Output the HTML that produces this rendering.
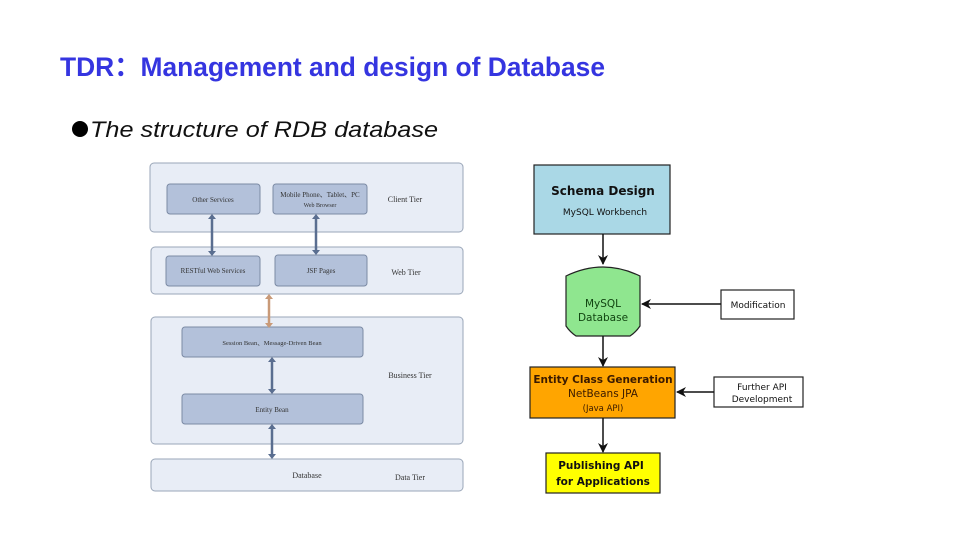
<!DOCTYPE html>
<html><head><meta charset="utf-8"><style>html,body{margin:0;padding:0;background:#fff}svg{display:block}</style></head>
<body>
<svg width="960" height="540" viewBox="0 0 960 540" xmlns="http://www.w3.org/2000/svg" font-family="Liberation Sans, sans-serif">
<defs>
<marker id="ah" markerWidth="10" markerHeight="10" refX="9" refY="5" orient="auto" markerUnits="userSpaceOnUse"><path d="M0,0 L10,5 L0,10 L3,5 z" fill="#111"/></marker>
</defs>
<text x="60" y="76" font-size="27" font-weight="bold" fill="#3535e0" textLength="545" lengthAdjust="spacingAndGlyphs" font-family="Liberation Sans, 'Noto Sans CJK SC', sans-serif">TDR：Management and design of Database</text>
<circle cx="80" cy="129" r="8" fill="#000"/>
<text x="90" y="137" font-size="22" font-style="italic" fill="#111" textLength="348" lengthAdjust="spacingAndGlyphs">The structure of RDB database</text>

<g stroke="#9aa6b8" stroke-width="1">
<rect x="150" y="163" width="313" height="69" rx="4" fill="#e8edf6"/>
<rect x="151" y="247" width="312" height="47" rx="4" fill="#e8edf6"/>
<rect x="151" y="317" width="312" height="127" rx="4" fill="#e8edf6"/>
<rect x="151" y="459" width="312" height="32" rx="4" fill="#e8edf6"/>
</g>
<g stroke="#7b8aa4" stroke-width="1" fill="#b3c1da">
<rect x="167" y="184" width="93" height="30" rx="3"/>
<rect x="273" y="184" width="94" height="30" rx="3"/>
<rect x="166" y="256" width="94" height="30" rx="3"/>
<rect x="275" y="255" width="92" height="31" rx="3"/>
<rect x="182" y="327" width="181" height="30" rx="3"/>
<rect x="182" y="394" width="181" height="30" rx="3"/>
</g>
<g font-family="Liberation Serif, serif" fill="#333" text-anchor="middle">
<text x="213" y="202" font-size="7">Other Services</text>
<text x="320" y="197" font-size="7">Mobile Phone、Tablet、PC</text>
<text x="320" y="207" font-size="6">Web Browser</text>
<text x="213" y="273" font-size="7">RESTful Web Services</text>
<text x="321" y="273" font-size="7">JSF Pages</text>
<text x="272" y="345" font-size="6.5">Session Bean、Message-Driven Bean</text>
<text x="272" y="412" font-size="7">Entity Bean</text>
<text x="405" y="202" font-size="8">Client Tier</text>
<text x="406" y="275" font-size="8">Web Tier</text>
<text x="410" y="378" font-size="8">Business Tier</text>
<text x="307" y="478" font-size="8">Database</text>
<text x="410" y="480" font-size="8">Data Tier</text>
</g>
<g stroke="#5a6e90" stroke-width="2.5" fill="none">
<line x1="212" y1="218" x2="212" y2="252"/>
<line x1="316" y1="218" x2="316" y2="251"/>
<line x1="272" y1="361" x2="272" y2="390"/>
<line x1="272" y1="428" x2="272" y2="455"/>
</g>
<g fill="#5a6e90">
<path d="M208,219 L212,214 L216,219z M208,251 L212,256 L216,251z"/>
<path d="M312,219 L316,214 L320,219z M312,250 L316,255 L320,250z"/>
<path d="M268,362 L272,357 L276,362z M268,389 L272,394 L276,389z"/>
<path d="M268,429 L272,424 L276,429z M268,454 L272,459 L276,454z"/>
</g>
<line x1="269" y1="298" x2="269" y2="324" stroke="#c99a78" stroke-width="2.5"/>
<path d="M265,299 L269,294 L273,299z M265,323 L269,328 L273,323z" fill="#c99a78"/>

<g stroke="#222" stroke-width="1.2">
<rect x="534" y="165" width="136" height="69" fill="#aad8e6"/>
<path d="M566,276 Q603,258 640,276 L640,326 Q636,332 630,336 L576,336 Q570,332 566,326 z" fill="#8fe68f"/>
<rect x="721" y="290" width="73" height="29" fill="#fff"/>
<rect x="530" y="367" width="145" height="51" fill="#ffa500"/>
<rect x="714" y="377" width="89" height="30" fill="#fff"/>
<rect x="546" y="453" width="114" height="40" fill="#ffff00"/>
</g>
<g stroke="#111" stroke-width="1.5" marker-end="url(#ah)">
<line x1="603" y1="234" x2="603" y2="264"/>
<line x1="721" y1="304" x2="642" y2="304"/>
<line x1="603" y1="336" x2="603" y2="366"/>
<line x1="714" y1="392" x2="677" y2="392"/>
<line x1="603" y1="418" x2="603" y2="452"/>
</g>
<g font-family="DejaVu Sans, sans-serif" text-anchor="middle" fill="#111">
<text x="603" y="195" font-size="12" font-weight="bold">Schema Design</text>
<text x="605" y="215" font-size="9">MySQL Workbench</text>
<text x="603" y="307" font-size="10.5" fill="#114411">MySQL</text>
<text x="603" y="321" font-size="10.5" fill="#114411">Database</text>
<text x="758" y="308" font-size="9">Modification</text>
<text x="603" y="383" font-size="10.5" font-weight="bold" fill="#3a1a00">Entity Class Generation</text>
<text x="603" y="397" font-size="10.5" fill="#3a1a00">NetBeans JPA</text>
<text x="603" y="411" font-size="8.5" fill="#3a1a00">(Java API)</text>
<text x="762" y="390" font-size="9">Further API</text>
<text x="762" y="402" font-size="9">Development</text>
<text x="601" y="469" font-size="10.5" font-weight="bold">Publishing API</text>
<text x="603" y="485" font-size="10.5" font-weight="bold">for Applications</text>
</g>
</svg>
</body></html>
